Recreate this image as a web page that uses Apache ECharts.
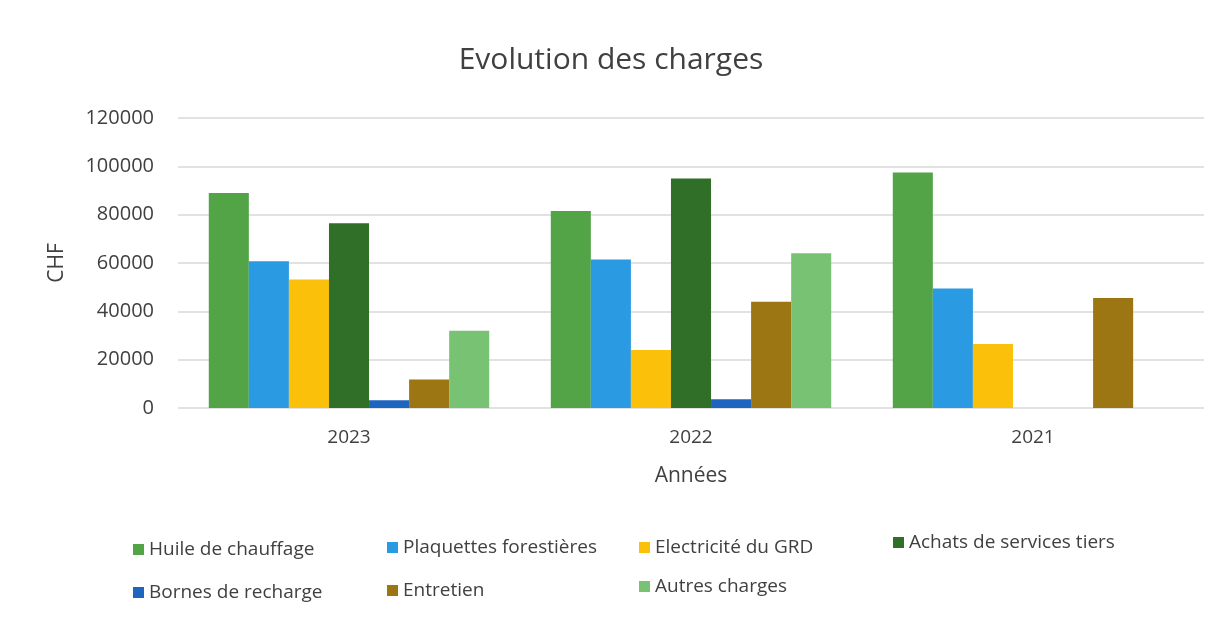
<!DOCTYPE html>
<html>
<head>
<meta charset="utf-8">
<script src="https://cdn.jsdelivr.net/npm/echarts@6/dist/echarts.min.js"></script>
<style>
  html, body { margin: 0; padding: 0; background: #ffffff; }
  #chart { width: 1222px; height: 619px; }
</style>
</head>
<body>
<div id="chart"></div>
<script>
const years = ['2023', '2022', '2021'];
const yTicks = [0, 20000, 40000, 60000, 80000, 100000, 120000];

const huile = [89000, 81500, 97500];
const plaquettes = [60700, 61500, 49500];
const electricite = [53200, 24000, 26500];
const achats = [76500, 95000, 0];
const bornes = [3200, 3600, 0];
const entretien = [11800, 44000, 45500];
const autres = [32000, 64000, 0];

const seriesNames = [
  'Huile de chauffage', 'Plaquettes forestières', 'Electricité du GRD',
  'Achats de services tiers', 'Bornes de recharge', 'Entretien', 'Autres charges'
];
const seriesValues = [huile, plaquettes, electricite, achats, bornes, entretien, autres];
const colors = ['#52a447', '#2a9ae3', '#fbc10a', '#2f6f27', '#1e65c0', '#9b7613', '#78c373'];

const chart = echarts.init(document.getElementById('chart'));

// legend laid out as a 4-column grid on two rows
const legendSlots = [
  [128, 535], [382, 533], [634, 533], [888, 528],
  [128, 578], [382, 576], [634, 572]
];

const option = {
  color: colors,
  title: {
    text: 'Evolution des charges',
    left: 'center',
    top: 40,
    textStyle: { fontFamily: 'Open Sans', fontSize: 30, fontWeight: 'normal', color: '#404040' }
  },
  legend: seriesNames.map((name, i) => ({
    data: [name],
    left: legendSlots[i][0],
    top: legendSlots[i][1],
    icon: 'rect',
    itemWidth: 11,
    itemHeight: 11,
    itemGap: 6,
    selectedMode: false,
    textStyle: { fontFamily: 'Open Sans', fontSize: 19, color: '#404040' }
  })),
  grid: { left: 178, right: 18, top: 118, bottom: 211 },
  xAxis: {
    type: 'category',
    data: years,
    name: 'Années',
    nameLocation: 'middle',
    nameGap: 58,
    nameTextStyle: { fontFamily: 'Open Sans', fontSize: 21, color: '#404040' },
    axisLine: { show: false },
    axisTick: { show: false },
    axisLabel: { fontFamily: 'Open Sans', fontSize: 19, color: '#404040', margin: 20 }
  },
  yAxis: {
    type: 'value',
    min: yTicks[0],
    max: yTicks[yTicks.length - 1],
    interval: yTicks[1] - yTicks[0],
    name: 'CHF',
    nameLocation: 'middle',
    nameGap: 110,
    nameRotate: 90,
    nameTextStyle: { fontFamily: 'Open Sans', fontSize: 21, color: '#404040' },
    axisLabel: {
      fontFamily: 'Open Sans', fontSize: 20, color: '#404040', margin: 24,
      formatter: v => String(v)
    },
    splitLine: { lineStyle: { color: '#d9d9d9', width: 1.5 } }
  },
  series: seriesNames.map((name, i) => ({
    name,
    type: 'bar',
    data: seriesValues[i],
    barGap: '0%',
    barCategoryGap: '18%'
  }))
};

chart.setOption(option);
</script>
</body>
</html>
